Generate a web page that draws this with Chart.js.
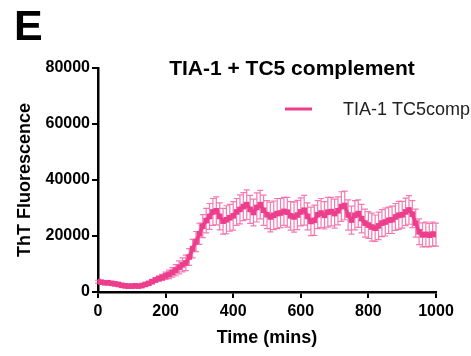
<!DOCTYPE html>
<html>
<head>
<meta charset="utf-8">
<script src="https://cdn.jsdelivr.net/npm/chart.js@4/dist/chart.umd.min.js"></script>
<style>
    html, body { margin: 0; padding: 0; background: #fff; }
    #wrap { width: 471px; height: 356px; }
</style>
</head>
<body>
<div id="wrap"><canvas id="charts" width="471" height="356"></canvas></div>
<script>
// time points (mins)
const times = [
    0, 10, 20, 30, 40, 50, 60, 70, 80, 90,
    100, 110, 120, 130, 140, 150, 160, 170, 180, 190,
    200, 210, 220, 230, 240, 250, 260, 270, 280, 290,
    300, 310, 320, 330, 340, 350, 360, 370, 380, 390,
    400, 410, 420, 430, 440, 450, 460, 470, 480, 490,
    500, 510, 520, 530, 540, 550, 560, 570, 580, 590,
    600, 610, 620, 630, 640, 650, 660, 670, 680, 690,
    700, 710, 720, 730, 740, 750, 760, 770, 780, 790,
    800, 810, 820, 830, 840, 850, 860, 870, 880, 890,
    900, 910, 920, 930, 940, 950, 960, 970, 980, 990,
    1000
];

// mean ThT fluorescence
const tc5comp = [
    3700, 3500, 3300, 3300, 3100, 2900, 2700, 2400, 2200, 2100,
    2100, 2200, 2100, 2300, 2700, 3100, 3700, 4300, 4800, 5200,
    5800, 6300, 7000, 7800, 8800, 9700, 10400, 12500, 15500, 18000,
    20800, 23500, 25500, 27000, 28600, 29000, 27000, 25300, 25800, 26500,
    27200, 28600, 29500, 30500, 31200, 29500, 28400, 30200, 31200, 29200,
    27600, 26800, 27400, 28000, 28200, 28800, 28500, 27200, 26800, 27500,
    28600, 29200, 27000, 25200, 25600, 27600, 28200, 27400, 28500, 28700,
    28000, 29000, 30500, 30900, 27500, 25700, 27400, 28000, 26200, 24600,
    23900, 23200, 22800, 23600, 24600, 25000, 25600, 25800, 26800, 27400,
    27600, 28600, 29300, 27800, 24600, 21500, 20400, 20600, 20300, 20700,
    20500
];

// error (SD)
const tc5compErr = [
    500, 500, 400, 500, 400, 400, 500, 400, 400, 400,
    400, 500, 400, 500, 600, 600, 700, 800, 900, 1100,
    1300, 1500, 1700, 2000, 2300, 2500, 2800, 3000, 3300, 3600,
    3800, 4100, 4400, 4600, 4800, 5000, 4800, 4600, 5000, 4800,
    5100, 4800, 5200, 5000, 5300, 5000, 4800, 5200, 5100, 5400,
    5000, 5300, 5100, 5400, 5200, 5000, 5300, 5100, 5400, 5200,
    5000, 5300, 4800, 5100, 5400, 5000, 5200, 4900, 5300, 5100,
    5200, 5000, 5300, 5100, 5400, 5000, 5200, 4900, 5100, 5000,
    4800, 5000, 4700, 4900, 4800, 5000, 4700, 4900, 4800, 5000,
    4800, 4900, 5100, 4800, 5000, 4600, 4300, 4400, 4200, 4300,
    4100
];

const xTicks = [0, 200, 400, 600, 800, 1000];
const yTicks = [0, 20000, 40000, 60000, 80000];

const pink = 'rgb(236, 62, 140)';
const pinkBar = 'rgba(240, 100, 165, 0.85)';

Chart.defaults.color = '#000';
Chart.defaults.font.family = "'Liberation Sans', Arial, sans-serif";
Chart.defaults.font.size = 16;

// error bars behind the line
const errorBars = {
    id: 'errorBars',
    beforeDatasetsDraw(chart) {
        const c = chart.ctx;
        const y = chart.scales.y;
        const meta = chart.getDatasetMeta(0);
        c.save();
        c.strokeStyle = pinkBar;
        c.lineWidth = 1.2;
        meta.data.forEach((pt, i) => {
            const top = y.getPixelForValue(tc5comp[i] + tc5compErr[i]);
            const bot = y.getPixelForValue(tc5comp[i] - tc5compErr[i]);
            c.beginPath();
            c.moveTo(pt.x, top);
            c.lineTo(pt.x, bot);
            c.moveTo(pt.x - 3, top);
            c.lineTo(pt.x + 3, top);
            c.moveTo(pt.x - 3, bot);
            c.lineTo(pt.x + 3, bot);
            c.stroke();
        });
        c.restore();
    }
};

// panel letter, title and legend
const decorations = {
    id: 'decorations',
    afterDraw(chart) {
        const c = chart.ctx;
        const area = chart.chartArea;
        c.save();
        c.fillStyle = '#000';
        c.textBaseline = 'alphabetic';
        c.textAlign = 'left';
        c.font = "bold 43px 'Liberation Sans', Arial, sans-serif";
        c.fillText('E', 14, 40);

        c.textAlign = 'center';
        c.textBaseline = 'middle';
        c.font = "bold 21px 'Liberation Sans', Arial, sans-serif";
        c.fillText('TIA-1 + TC5 complement', 292, area.top + 1);

        c.strokeStyle = pink;
        c.lineWidth = 3;
        c.beginPath();
        c.moveTo(285, 109);
        c.lineTo(312, 109);
        c.stroke();

        c.textAlign = 'left';
        c.fillStyle = '#222';
        c.font = "18px 'Liberation Sans', Arial, sans-serif";
        c.fillText('TIA-1 TC5comp', 343, 110);
        c.restore();
    }
};

let ctx = document.getElementById('charts');

new Chart(ctx, {
    type: 'line',
    data: {
        labels: times,
        datasets: [{
            label: 'TIA-1 TC5comp',
            data: times.map((t, i) => ({ x: t, y: tc5comp[i] })),
            borderColor: pink,
            backgroundColor: pink,
            borderWidth: 3.5,
            pointRadius: 1.5,
            pointStyle: 'rect',
            tension: 0
        }]
    },
    options: {
        responsive: false,
        animation: false,
        layout: {
            padding: { left: 0, right: 35, top: 68, bottom: 0 }
        },
        plugins: {
            legend: { display: false },
            tooltip: { enabled: false }
        },
        scales: {
            x: {
                type: 'linear',
                min: 0,
                max: 1000,
                afterFit: (scale) => { scale.height = 64; },
                afterBuildTicks: (scale) => { scale.ticks = xTicks.map(v => ({ value: v })); },
                border: { display: true, color: '#000', width: 2.5 },
                grid: { drawOnChartArea: false, drawTicks: true, tickLength: 6, color: '#000', lineWidth: 2 },
                ticks: {
                    padding: 4,
                    maxRotation: 0,
                    font: { weight: 'bold', size: 16 },
                    callback: (v) => String(v)
                },
                title: {
                    display: true,
                    text: 'Time (mins)',
                    font: { weight: 'bold', size: 18 },
                    padding: { top: 0, bottom: 7 }
                }
            },
            y: {
                min: 0,
                max: 80000,
                afterFit: (scale) => { scale.width = 98; },
                afterBuildTicks: (scale) => { scale.ticks = yTicks.map(v => ({ value: v })); },
                border: { display: true, color: '#000', width: 2.5 },
                grid: { drawOnChartArea: false, drawTicks: true, tickLength: 6, color: '#000', lineWidth: 2 },
                ticks: {
                    padding: 2,
                    font: { weight: 'bold', size: 16 },
                    callback: (v) => String(v)
                },
                title: {
                    display: true,
                    text: 'ThT Fluorescence',
                    font: { weight: 'bold', size: 18 },
                    padding: { top: 14, bottom: 0 }
                }
            }
        }
    },
    plugins: [errorBars, decorations]
});
</script>
</body>
</html>
